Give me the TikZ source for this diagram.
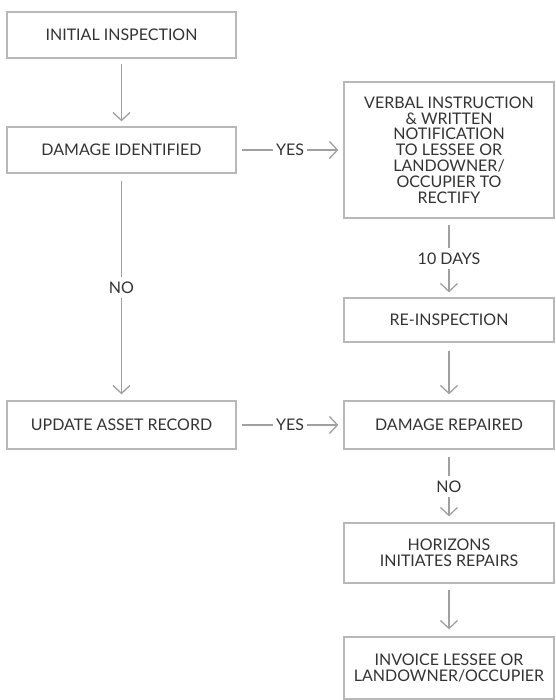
\documentclass[tikz,border=0pt]{standalone}
\usepackage{fontspec}
\setmainfont{Lato}
\usetikzlibrary{arrows.meta}
\definecolor{boxline}{HTML}{B8B8B8}
\definecolor{arrline}{HTML}{A0A0A0}
\definecolor{txt}{HTML}{333333}
\begin{document}
\begin{tikzpicture}[x=1pt,y=-1pt,
  every node/.style={font=\fontsize{16}{15.8}\selectfont, text=txt},
  stepbox/.style={draw=boxline, line width=1.3pt, rectangle, align=center, inner sep=2pt},
  conn/.style={draw=arrline, line width=1.3pt, -{Straight Barb[length=8pt,width=17pt,line width=1.3pt]}},
  lbl/.style={fill=white, inner sep=5pt}
]
\useasboundingbox (0,0) rectangle (555,700);
\node[stepbox, minimum width=229pt, minimum height=46pt] (init) at (121.5,35) {INITIAL INSPECTION};
\node[stepbox, minimum width=229pt, minimum height=46pt] (dmg) at (121.5,150) {DAMAGE IDENTIFIED};
\node[stepbox, minimum width=229pt, minimum height=48pt] (upd) at (121.5,425) {UPDATE ASSET RECORD};
\node[stepbox, minimum width=210pt, minimum height=136pt] (verbal) at (449,150) {VERBAL INSTRUCTION\\\& WRITTEN\\NOTIFICATION\\TO LESSEE OR\\LANDOWNER/\\OCCUPIER TO\\RECTIFY};
\node[stepbox, minimum width=210pt, minimum height=44pt] (reinsp) at (449,320) {RE-INSPECTION};
\node[stepbox, minimum width=210pt, minimum height=48pt] (rep) at (449,425) {DAMAGE REPAIRED};
\node[stepbox, minimum width=210pt, minimum height=60pt] (hor) at (449,553) {HORIZONS\\INITIATES REPAIRS};
\node[stepbox, minimum width=210pt, minimum height=62pt] (inv) at (449,668) {INVOICE LESSEE OR\\LANDOWNER/OCCUPIER};

\draw[conn] ([yshift=-5pt]init.south) -- ([yshift=5pt]dmg.north);
\draw[conn] ([xshift=5pt]dmg.east) -- node[lbl, inner sep=3pt] {YES} ([xshift=-5pt]verbal.west);
\draw[conn] ([yshift=-7pt]dmg.south) -- node[lbl] {NO} ([yshift=6pt]upd.north);
\draw[conn] ([xshift=5pt]upd.east) -- node[lbl, inner sep=3pt] {YES} ([xshift=-5pt]rep.west);
\draw[conn] ([yshift=-6pt]verbal.south) -- node[lbl] {10 DAYS} ([yshift=5pt]reinsp.north);
\draw[conn] ([yshift=-8pt]reinsp.south) -- ([yshift=6pt]rep.north);
\draw[conn] ([yshift=-7pt]rep.south) -- node[lbl] {NO} ([yshift=6pt]hor.north);
\draw[conn] ([yshift=-6pt]hor.south) -- ([yshift=7pt]inv.north);
\end{tikzpicture}
\end{document}
